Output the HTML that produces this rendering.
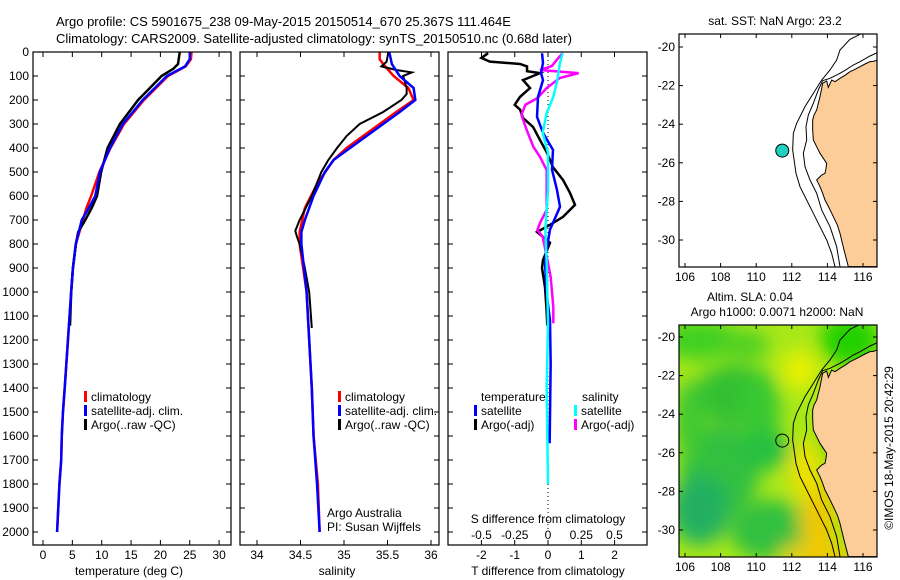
<!DOCTYPE html>
<html><head><meta charset="utf-8"><style>
body{margin:0;background:#fff}
svg{display:block;font-family:"Liberation Sans",sans-serif}
text{font-size:12px;fill:#000}
</style></head><body>
<svg id="s" width="900" height="580" viewBox="0 0 900 580">
<defs>
<filter id="bl" x="-20%" y="-20%" width="140%" height="140%"><feGaussianBlur stdDeviation="9"/></filter>
<clipPath id="cm2"><rect x="679" y="325" width="198" height="232"/></clipPath>
<clipPath id="cm1"><rect x="679" y="34" width="198" height="233"/></clipPath>
</defs>
<text x="56" y="26" style="font-size:13px">Argo profile: CS 5901675_238 09-May-2015 20150514_670 25.367S 111.464E</text>
<text x="56" y="43" style="font-size:13px">Climatology: CARS2009. Satellite-adjusted climatology: synTS_20150510.nc (0.68d later)</text>
<g id="g"></g>
</svg>
<script>
// ---- data ----
const tDepthClim=[0,30,60,100,200,300,400,500,600,650,700,800,900,1000,1400,1500,1600,1700,1800,1900,2000];
const tClim=[25.3,25.2,24.3,21.3,17.2,13.8,11.5,9.6,8.2,7.4,6.8,5.6,5.1,4.8,3.7,3.4,3.2,3.1,2.8,2.6,2.4];
const tSat=[25.0,25.0,24.2,21.1,17.0,13.6,11.4,9.7,8.9,7.8,6.6,5.6,5.1,4.8,3.7,3.4,3.2,3.1,2.8,2.6,2.4];
const tDepthArgo=[0,50,70,100,180,200,300,400,500,600,650,700,750,800,900,1000,1140];
const tArgo=[23.3,23.0,22.2,20.2,17.0,16.2,13.1,11.0,9.9,9.2,8.3,7.2,6.0,5.6,5.1,4.8,4.6];
const sDepthClim=[0,30,50,100,150,200,250,300,350,400,450,550,650,750,800,1000,1400,1600,1800,2000];
const sClim=[35.41,35.41,35.45,35.57,35.74,35.80,35.60,35.41,35.22,35.03,34.88,34.69,34.55,34.49,34.49,34.57,34.63,34.65,34.70,34.72];
const sDepthSat=[0,50,100,150,200,250,300,350,400,450,500,600,700,750,800,900,1000,1400,1600,1800,2000];
const sSat=[35.52,35.55,35.64,35.80,35.82,35.64,35.45,35.26,35.07,34.88,34.78,34.65,34.55,34.51,34.51,34.54,34.57,34.63,34.65,34.69,34.72];
const sDepthArgo=[0,40,60,75,85,100,150,175,200,250,300,350,400,450,500,600,700,745,770,800,900,1000,1100,1150];
const sArgo=[35.51,35.49,35.43,35.60,35.78,35.68,35.72,35.72,35.66,35.45,35.18,35.03,34.92,34.82,34.74,34.63,34.49,34.44,34.46,34.49,34.55,34.60,34.62,34.63];
const dtArgoDepth=[5,25,40,50,60,80,88,117,150,187,220,240,275,312,367,420,480,533,587,637,687,720,750,795,867,900,980,1060,1140];
const dtArgo=[-1.8,-2.0,-1.74,-0.84,-0.63,-0.63,-0.24,-0.75,-0.54,-0.84,-1.0,-0.84,-0.75,-0.45,-0.24,-0.03,0.15,0.45,0.66,0.81,0.45,0.06,-0.33,0.06,-0.15,-0.18,-0.09,-0.05,-0.02];
const dtSatDepth=[5,45,88,117,187,270,337,408,490,575,645,712,740,812,880,1020,1117,1300,1630];
const dtSat=[-0.18,-0.15,-0.21,-0.15,-0.3,-0.33,-0.15,0.15,0.12,0.27,0.36,0.15,0.06,-0.03,-0.09,-0.03,0.06,0.08,0.05];
const dsArgoDepth=[5,30,58,75,88,108,150,192,220,262,325,395,437,492,658,712,742,770,850,937,1062,1130];
const dsArgo=[0.11,0.07,0.03,-0.06,0.23,0.09,-0.01,-0.08,-0.17,-0.2,-0.16,-0.11,-0.06,-0.01,-0.01,-0.06,-0.08,-0.04,-0.01,0.02,0.04,0.04];
const dsSatDepth=[5,45,117,187,254,337,420,575,740,880,1130,1400,1800];
const dsSat=[0.11,0.09,0.07,0.04,-0.01,-0.04,0,0,-0.02,-0.01,0,-0.01,0];
const depthTicks=[0,100,200,300,400,500,600,700,800,900,1000,1100,1200,1300,1400,1500,1600,1700,1800,1900,2000];
const tTicks=[0,5,10,15,20,25,30];
const sTicks=[34,34.5,35,35.5,36];
const sTickLabels=['34','34.5','35','35.5','36'];
const dTTicks=[-2,-1,0,1,2];
const dSTicks=[-0.5,-0.25,0,0.25,0.5];
const lonTicks=[106,108,110,112,114,116];
const latTicks=[-20,-22,-24,-26,-28,-30];
const argoLon=111.464, argoLat=-25.367;
// ---- scales ----
const yD=d=>52+d*0.24;
const xT=t=>43+t*5.87;
const xS=s=>257+(s-34)*87;
const xdT=v=>548+v*33.3;
const xdS=v=>548+v*133;
const mx=l=>685+(l-106)*17.8;
const my1=l=>47+(-20-l)*19.3;
const my2=l=>337+(-20-l)*19.3;
const NS='http://www.w3.org/2000/svg';
const G=document.getElementById('g');
function mk(tag,at,txt,parent){const e=document.createElementNS(NS,tag);for(const k in at)e.setAttribute(k,at[k]);if(txt!==undefined)e.textContent=txt;(parent||G).appendChild(e);return e;}
function line(xs,ds,xf,col,w,name){
  const p=mk('polyline',{points:xs.map((v,i)=>xf(v)+','+yD(ds[i])).join(' '),fill:'none',stroke:col,'stroke-width':w});
  
  
}
function frame(x0,x1,y0,y1,name){
  const r=mk('rect',{x:x0,y:y0,width:x1-x0,height:y1-y0,fill:'none',stroke:'#000','stroke-width':1.2});
  
  
}
function txt(x,y,s,anchor,name,extra){
  const t=mk('text',Object.assign({x:x,y:y,'text-anchor':anchor||'start'},extra||{}),s);
  
  
  return t;
}
const panels=[[33,231],[240,439],[448,647]];
depthTicks.forEach(d=>{
  txt(29,yD(d)+4,String(d),'end','depth-tick-label');
  panels.forEach(p=>{mk('line',{x1:p[0],x2:p[0]+5,y1:yD(d),y2:yD(d),stroke:'#000'});mk('line',{x1:p[1]-5,x2:p[1],y1:yD(d),y2:yD(d),stroke:'#000'});});
});
tTicks.forEach(t=>{const x=xT(t);mk('line',{x1:x,x2:x,y1:545,y2:540,stroke:'#000'});mk('line',{x1:x,x2:x,y1:52,y2:57,stroke:'#000'});txt(x,559,String(t),'middle','temperature-tick-label');});
txt(129,575,'temperature (deg C)','middle','x-axis-title-temperature');
sTicks.forEach((s,i)=>{const x=xS(s);mk('line',{x1:x,x2:x,y1:545,y2:540,stroke:'#000'});mk('line',{x1:x,x2:x,y1:52,y2:57,stroke:'#000'});txt(x,559,sTickLabels[i],'middle','salinity-tick-label');});
txt(337,575,'salinity','middle','x-axis-title-salinity');
dTTicks.forEach(v=>{const x=xdT(v);mk('line',{x1:x,x2:x,y1:545,y2:540,stroke:'#000'});txt(x,559,String(v),'middle','t-diff-tick-label');});
dSTicks.forEach(v=>{const x=xdS(v);mk('line',{x1:x,x2:x,y1:52,y2:57,stroke:'#000'});txt(x,539,String(v),'middle','s-diff-tick-label');});
txt(548,575,'T difference from climatology','middle','x-axis-title-t-diff');
txt(548,523,'S difference from climatology','middle','s-diff-title');
const z=mk('line',{x1:548,x2:548,y1:52,y2:yD(2000),stroke:'#000','stroke-dasharray':'1,3'});


line(tClim,tDepthClim,xT,'#f00',2.5,'temperature-climatology-line');
line(tArgo,tDepthArgo,xT,'#000',2.5,'temperature-argo-line');
line(tSat,tDepthClim,xT,'#00f',2.5,'temperature-satellite-line');
line(sClim,sDepthClim,xS,'#f00',2.5,'salinity-climatology-line');
line(sArgo,sDepthArgo,xS,'#000',2,'salinity-argo-line');
line(sSat,sDepthSat,xS,'#00f',2.5,'salinity-satellite-line');
line(dtArgo,dtArgoDepth,xdT,'#000',2.5,'t-diff-argo-line');
line(dsArgo,dsArgoDepth,xdS,'#f0f',2.5,'s-diff-argo-line');
line(dtSat,dtSatDepth,xdT,'#00f',2.5,'t-diff-satellite-line');
line(dsSat,dsSatDepth,xdS,'#0ff',2.5,'s-diff-satellite-line');
panels.forEach((p,i)=>frame(p[0],p[1],52,545,'profile-panel-'+(i+1)));
function leg(x,y,col,label){const r=mk('rect',{x:x,y:y-7,width:3,height:11,fill:col});txt(x+7,y+3,label,'start','legend-entry');}
[[84],[338]].forEach(a=>{leg(a[0],398,'#f00','climatology');leg(a[0],412,'#00f','satellite-adj. clim.');leg(a[0],426,'#000','Argo(..raw -QC)');});
txt(481,401,'temperature','start','legend-header-temperature');
txt(582,401,'salinity','start','legend-header-salinity');
leg(474,412,'#00f','satellite');leg(474,426,'#000','Argo(-adj)');
leg(574,412,'#0ff','satellite');leg(574,426,'#f0f','Argo(-adj)');
txt(327,517,'Argo Australia','start','credit-argo-australia');
txt(327,531,'PI: Susan Wijffels','start','credit-pi');
// maps (coast outline in zoom-pixel coords of top map)
const coast=[[712,180],[700,184],[690,185],[675,192],[660,200],[645,208],[630,215],[615,226],[600,235],[585,245],[575,240],[565,262],[560,243],[548,250],[545,265],[540,290],[535,310],[530,330],[522,345],[518,360],[518,390],[520,420],[530,440],[540,460],[550,475],[560,490],[558,505],[555,520],[545,525],[530,540],[535,550],[540,560],[548,580],[555,600],[568,625],[580,650],[592,675],[600,700],[612,750],[625,800]];
const c200=[[712,158],[690,168],[660,185],[640,195],[620,208],[600,220],[570,235],[548,242],[535,270],[520,310],[505,345],[498,380],[500,420],[490,460],[495,500],[510,540],[530,580],[545,630],[570,680],[590,740],[600,800]];
const c1000=[[660,103],[630,118],[600,150],[590,180],[570,210],[545,240],[520,280],[495,320],[470,370],[460,400],[458,450],[468,520],[480,560],[500,600],[520,640],[540,680],[560,720],[575,760],[585,800]];
function mapLayer(oy,id){
  const toP=p=>(640+p[0]/3)+','+(oy+p[1]/3);
  const land=mk('polygon',{points:coast.map(toP).join(' ')+' '+(640+712/3)+','+(oy+800/3)+' '+(640+712/3)+','+(oy+180/3),fill:'#fccc99',stroke:'#000','stroke-width':1,'clip-path':'url(#'+id+')'});
  
  
  [c200,c1000].forEach(c=>{const l=mk('polyline',{points:c.map(toP).join(' '),fill:'none',stroke:'#000','stroke-width':1,'clip-path':'url(#'+id+')'});});
}
const bg=mk('g',{'clip-path':'url(#cm2)'});


mk('rect',{x:679,y:325,width:198,height:232,fill:'#a8e818'},undefined,bg);
const blob=mk('g',{filter:'url(#bl)'},undefined,bg);
[[700,340,40,20,'#40d020'],[745,345,25,15,'#50d020'],[735,395,40,30,'#30c030'],[760,410,20,40,'#38c830'],[720,470,40,45,'#30c040'],[700,510,30,35,'#20b060'],[765,450,25,20,'#28c040'],[770,530,40,30,'#30c040'],[690,420,15,40,'#40c830'],[800,370,18,20,'#e8f000'],[818,520,18,40,'#f0c800'],[805,470,15,30,'#f0e000'],[830,560,30,12,'#f0c800'],[795,555,15,10,'#f0d000'],[850,340,30,25,'#20d000'],[835,440,12,20,'#40d000']].forEach(b=>mk('ellipse',{cx:b[0],cy:b[1],rx:b[2],ry:b[3],fill:b[4]},undefined,blob));
mapLayer(0,'cm1');
mapLayer(290,'cm2');
frame(679,877,34,267,'sst-map-frame');
frame(679,877,325,557,'sla-map-frame');
[[my1,267,34,'sst'],[my2,557,325,'sla']].forEach(m=>{
  lonTicks.forEach(l=>{const x=mx(l);mk('line',{x1:x,x2:x,y1:m[1],y2:m[1]-4,stroke:'#000'});mk('line',{x1:x,x2:x,y1:m[2],y2:m[2]+4,stroke:'#000'});txt(x,m[1]+14,String(l),'middle',m[3]+'-lon-label');});
  latTicks.forEach(l=>{const y=m[0](l);mk('line',{x1:679,x2:683,y1:y,y2:y,stroke:'#000'});mk('line',{x1:873,x2:877,y1:y,y2:y,stroke:'#000'});txt(675,y+4,String(l),'end',m[3]+'-lat-label');});
});
const c1=mk('circle',{cx:mx(argoLon),cy:my1(argoLat),r:6.5,fill:'#20d0c0',stroke:'#000'});


const c2=mk('circle',{cx:mx(argoLon),cy:my2(argoLat),r:6.5,fill:'none',stroke:'#000'});


txt(775,25,'sat. SST: NaN Argo: 23.2','middle','sst-map-title');
txt(750,301,'Altim. SLA: 0.04','middle','sla-map-title');
txt(777,316,'Argo h1000: 0.0071 h2000: NaN','middle','sla-map-subtitle');
txt(0,0,'©IMOS 18-May-2015 20:42:29','middle','imos-credit',{transform:'translate(893,448) rotate(-90)'});
</script>
</body></html>
